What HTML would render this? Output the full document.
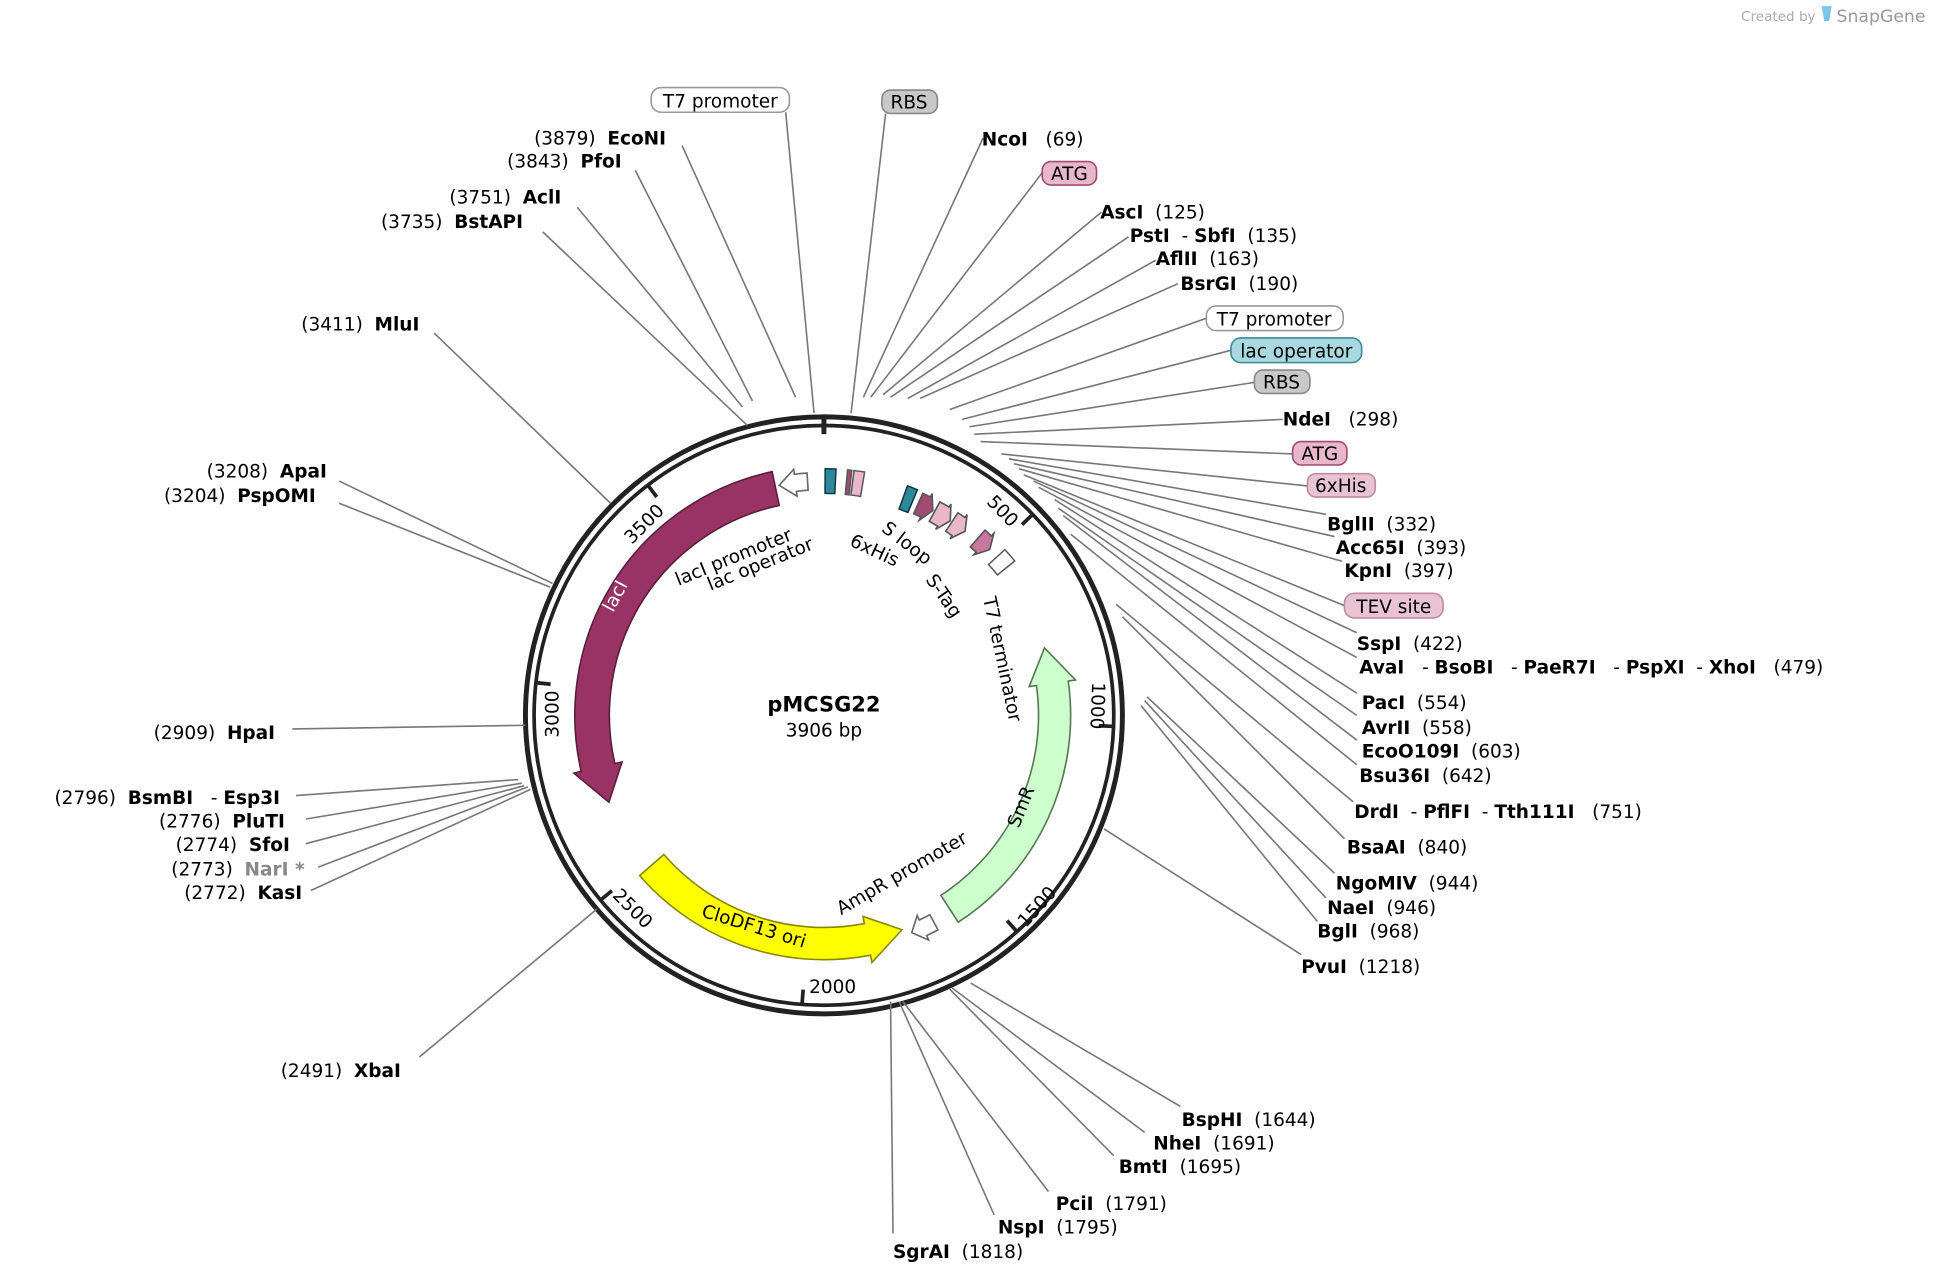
<!DOCTYPE html>
<html><head><meta charset="utf-8">
<style>
html,body{margin:0;padding:0;background:#fff;}
svg{display:block;}
text{font-family:"DejaVu Sans","Liberation Sans",Verdana,sans-serif;font-size:15px;fill:#000;white-space:pre;}
.b{font-weight:bold;}
.n{font-weight:normal;}
.ln{stroke:#777;stroke-width:1.3;fill:none;}
.box{stroke-width:1.3;}
</style></head>
<body>
<svg id="s" width="1934" height="1284" viewBox="0 0 1568 1041" xmlns="http://www.w3.org/2000/svg" xml:space="preserve">
<g id="arcs"></g>
<circle cx="668" cy="580" r="242" fill="none" stroke="#222" stroke-width="4"/>
<circle cx="668" cy="580" r="235" fill="none" stroke="#222" stroke-width="3"/>
<line x1="668" y1="336" x2="668" y2="352" stroke="#222" stroke-width="4"/>
<g id="ticks"></g>
<text x="800" y="418" transform="rotate(46 812 412)">500</text>
<text x="872" y="566" transform="rotate(92 885 566)">1000</text>
<text x="815" y="745" transform="rotate(-48 832 730)">1500</text>
<text x="656" y="805">2000</text>
<text x="492" y="740" transform="rotate(45 510 738)">2500</text>
<text x="453" y="598" transform="rotate(-90 453 598)">3000</text>
<text x="500" y="432" transform="rotate(-45 518 422)">3500</text>
<text x="668" y="577" text-anchor="middle" class="b" style="font-size:17px">pMCSG22</text>
<text x="668" y="597" text-anchor="middle">3906 bp</text>
<text x="550" y="475" transform="rotate(-22 550 475)">lacI promoter</text>
<text x="576" y="479" transform="rotate(-22 576 479)">lac operator</text>
<text x="688" y="442" transform="rotate(25 688 442)">6xHis</text>
<text x="714" y="430" transform="rotate(38 714 430)">S loop</text>
<text x="750" y="470" transform="rotate(55 750 470)">S-Tag</text>
<text x="797" y="485" transform="rotate(78 797 485)">T7 terminator</text>
<text x="826" y="672" transform="rotate(-68 826 672)">SmR</text>
<text x="568" y="743" transform="rotate(17 568 743)">CloDF13 ori</text>
<text x="682" y="742" transform="rotate(-30 682 742)">AmpR promoter</text>
<text x="497" y="497" transform="rotate(-62 497 497)" style="fill:#fff">lacI</text>
<g class="ln">
<path d="M637 91L660 335M718 92L690 335M553 118L645 322M515 138L610 325M468 168L602 330M440 188L606 345M352 270L495 408M275 390L448 473M275 408L446 476M237 591L426 588M240 645L420 632M248 664L423 635M248 684L425 637M258 703L428 638M252 722L430 640M340 857L484 737"/>
<path d="M724 1000L722 812M806 985L729 812M850 966L732 812M903 937L770 802M928 918L772 801M957 897L787 797"/>
<path d="M1055 774L895 672M1068 747L925 572M1075 728L928 568M1082 708L930 565M1090 680L910 500M1097 650L905 490M1100 620L868 433M1100 600L862 418M1100 580L858 412M1100 562L855 405M1100 533L842 395M1100 513L838 390M1090 491L830 385M1088 455L826 380M1082 435L822 376M1075 417L818 372M1060 394L812 368M1048 368L795 358M1040 340L790 352M1017 310L786 346M998 284L780 340M978 258L770 332M955 230L746 323M937 211L736 323M915 192L722 322M893 172L716 320M845 140L706 322M797 112L700 322"/>
</g>
<rect class="box" x="528" y="71" width="112" height="20" rx="8" fill="#fff" stroke="#999"/>
<text x="584" y="87" text-anchor="middle">T7 promoter</text>
<rect class="box" x="715" y="73" width="45" height="19" rx="7" fill="#c8c8c8" stroke="#888"/>
<text x="737" y="88" text-anchor="middle">RBS</text>
<rect class="box" x="845" y="131" width="44" height="19" rx="7" fill="#e8b7c9" stroke="#a24b72"/>
<text x="867" y="146" text-anchor="middle">ATG</text>
<rect class="box" x="978" y="248" width="111" height="20" rx="8" fill="#fff" stroke="#999"/>
<text x="1033" y="264" text-anchor="middle">T7 promoter</text>
<rect class="box" x="998" y="274" width="106" height="20" rx="8" fill="#a8d8e0" stroke="#3a8a98"/>
<text x="1051" y="290" text-anchor="middle">lac operator</text>
<rect class="box" x="1017" y="300" width="45" height="19" rx="7" fill="#c8c8c8" stroke="#888"/>
<text x="1039" y="315" text-anchor="middle">RBS</text>
<rect class="box" x="1048" y="358" width="44" height="19" rx="7" fill="#e8b7c9" stroke="#a24b72"/>
<text x="1070" y="373" text-anchor="middle">ATG</text>
<rect class="box" x="1060" y="384" width="55" height="19" rx="7" fill="#e8c4d2" stroke="#c08aa0"/>
<text x="1087" y="399" text-anchor="middle">6xHis</text>
<rect class="box" x="1090" y="481" width="80" height="20" rx="8" fill="#e8c4d2" stroke="#c08aa0"/>
<text x="1130" y="497" text-anchor="middle">TEV site</text>
<text x="540" y="117" text-anchor="end"><tspan class="n">(3879)  </tspan><tspan class="b">EcoNI</tspan></text>
<text x="504" y="136" text-anchor="end"><tspan class="n">(3843)  </tspan><tspan class="b">PfoI</tspan></text>
<text x="455" y="165" text-anchor="end"><tspan class="n">(3751)  </tspan><tspan class="b">AclI</tspan></text>
<text x="424" y="185" text-anchor="end"><tspan class="n">(3735)  </tspan><tspan class="b">BstAPI</tspan></text>
<text x="340" y="268" text-anchor="end"><tspan class="n">(3411)  </tspan><tspan class="b">MluI</tspan></text>
<text x="265" y="387" text-anchor="end"><tspan class="n">(3208)  </tspan><tspan class="b">ApaI</tspan></text>
<text x="256" y="407" text-anchor="end"><tspan class="n">(3204)  </tspan><tspan class="b">PspOMI</tspan></text>
<text x="223" y="599" text-anchor="end"><tspan class="n">(2909)  </tspan><tspan class="b">HpaI</tspan></text>
<text x="227" y="652" text-anchor="end"><tspan class="n">(2796)  </tspan><tspan class="b">BsmBI</tspan><tspan>   - </tspan><tspan class="b">Esp3I</tspan></text>
<text x="231" y="671" text-anchor="end"><tspan class="n">(2776)  </tspan><tspan class="b">PluTI</tspan></text>
<text x="235" y="690" text-anchor="end"><tspan class="n">(2774)  </tspan><tspan class="b">SfoI</tspan></text>
<text x="247" y="710" text-anchor="end"><tspan class="n">(2773)  </tspan><tspan class="b" style="fill:#888">NarI *</tspan></text>
<text x="245" y="729" text-anchor="end"><tspan class="n">(2772)  </tspan><tspan class="b">KasI</tspan></text>
<text x="325" y="873" text-anchor="end"><tspan class="n">(2491)  </tspan><tspan class="b">XbaI</tspan></text>
<text x="724" y="1020"><tspan class="b">SgrAI</tspan><tspan>  (1818)</tspan></text>
<text x="809" y="1000"><tspan class="b">NspI</tspan><tspan>  (1795)</tspan></text>
<text x="856" y="981"><tspan class="b">PciI</tspan><tspan>  (1791)</tspan></text>
<text x="907" y="951"><tspan class="b">BmtI</tspan><tspan>  (1695)</tspan></text>
<text x="935" y="932"><tspan class="b">NheI</tspan><tspan>  (1691)</tspan></text>
<text x="958" y="913"><tspan class="b">BspHI</tspan><tspan>  (1644)</tspan></text>
<text x="1055" y="789"><tspan class="b">PvuI</tspan><tspan>  (1218)</tspan></text>
<text x="1068" y="760"><tspan class="b">BglI</tspan><tspan>  (968)</tspan></text>
<text x="1076" y="741"><tspan class="b">NaeI</tspan><tspan>  (946)</tspan></text>
<text x="1083" y="721"><tspan class="b">NgoMIV</tspan><tspan>  (944)</tspan></text>
<text x="1092" y="692"><tspan class="b">BsaAI</tspan><tspan>  (840)</tspan></text>
<text x="1098" y="663"><tspan class="b">DrdI</tspan><tspan>  - </tspan><tspan class="b">PflFI</tspan><tspan>  - </tspan><tspan class="b">Tth111I</tspan><tspan>   (751)</tspan></text>
<text x="1102" y="634"><tspan class="b">Bsu36I</tspan><tspan>  (642)</tspan></text>
<text x="1104" y="614"><tspan class="b">EcoO109I</tspan><tspan>  (603)</tspan></text>
<text x="1104" y="595"><tspan class="b">AvrII</tspan><tspan>  (558)</tspan></text>
<text x="1104" y="575"><tspan class="b">PacI</tspan><tspan>  (554)</tspan></text>
<text x="1102" y="546"><tspan class="b">AvaI</tspan><tspan>   - </tspan><tspan class="b">BsoBI</tspan><tspan>   - </tspan><tspan class="b">PaeR7I</tspan><tspan>   - </tspan><tspan class="b">PspXI</tspan><tspan>  - </tspan><tspan class="b">XhoI</tspan><tspan>   (479)</tspan></text>
<text x="1100" y="527"><tspan class="b">SspI</tspan><tspan>  (422)</tspan></text>
<text x="1090" y="468"><tspan class="b">KpnI</tspan><tspan>  (397)</tspan></text>
<text x="1083" y="449"><tspan class="b">Acc65I</tspan><tspan>  (393)</tspan></text>
<text x="1076" y="430"><tspan class="b">BglII</tspan><tspan>  (332)</tspan></text>
<text x="1040" y="345"><tspan class="b">NdeI</tspan><tspan>   (298)</tspan></text>
<text x="957" y="235"><tspan class="b">BsrGI</tspan><tspan>  (190)</tspan></text>
<text x="937" y="215"><tspan class="b">AflII</tspan><tspan>  (163)</tspan></text>
<text x="916" y="196"><tspan class="b">PstI</tspan><tspan>  - </tspan><tspan class="b">SbfI</tspan><tspan>  (135)</tspan></text>
<text x="892" y="177"><tspan class="b">AscI</tspan><tspan>  (125)</tspan></text>
<text x="796" y="118"><tspan class="b">NcoI</tspan><tspan>   (69)</tspan></text>
<text x="1472" y="17" text-anchor="end" style="font-size:11px;fill:#aaa">Created by</text>
<path d="M1477 5h8l-2 12h-4z" fill="#7cc4e8"/>
<text x="1489" y="18" style="font-size:14px;fill:#999">SnapGene</text>
</svg>
<script>
var cx=668,cy=580,NS="http://www.w3.org/2000/svg";
function P(r,a){a=a*Math.PI/180;return [cx+r*Math.sin(a),cy-r*Math.cos(a)];}
function pt(p){return p[0].toFixed(1)+" "+p[1].toFixed(1);}
function arrow(r,a1,a2,w,h,hw,fill,stroke){
 var s=a2>a1?1:-1,ab=a2-s*h,ro=r+w/2,ri=r-w/2;
 var large=Math.abs(ab-a1)>180?1:0,sw1=s>0?1:0,sw2=s>0?0:1;
 var d="M"+pt(P(ro,a1))+"A"+ro+" "+ro+" 0 "+large+" "+sw1+" "+pt(P(ro,ab))+"L"+pt(P(ro+hw,ab))+"L"+pt(P(r,a2))+"L"+pt(P(ri-hw,ab))+"L"+pt(P(ri,ab))+"A"+ri+" "+ri+" 0 "+large+" "+sw2+" "+pt(P(ri,a1))+"Z";
 add("path",{d:d,fill:fill,stroke:stroke,"stroke-width":1.3});
}
function box(r,a1,a2,w,fill,stroke){
 var ro=r+w/2,ri=r-w/2;
 var d="M"+pt(P(ro,a1))+"A"+ro+" "+ro+" 0 0 1 "+pt(P(ro,a2))+"L"+pt(P(ri,a2))+"A"+ri+" "+ri+" 0 0 0 "+pt(P(ri,a1))+"Z";
 add("path",{d:d,fill:fill,stroke:stroke,"stroke-width":1.2});
}
function add(t,at,par){var e=document.createElementNS(NS,t);for(var k in at)e.setAttribute(k,at[k]);(par||document.getElementById("arcs")).appendChild(e);return e;}
arrow(188,348,248,28,9,6,"#993366","#5a1e3c");
arrow(187,147,73,26,9,6,"#ccffcc","#557755");
arrow(185,229,160,26,9,6,"#ffff00","#888800");
arrow(190,356,349,14,4,4,"#fff","#666");
box(190,0.3,2.8,20,"#2a8a9a","#134");
box(190,5.5,6.5,20,"#a24b72","#555");
box(190,7,9.5,20,"#e8b7c9","#555");
arrow(190,152,158,14,3,4,"#fff","#666");
box(188,20,22.5,20,"#2a8a9a","#134");
arrow(188,24,28,18,2,3,"#a24b72","#555");
arrow(188,28.5,33,18,2,3,"#e8b7c9","#555");
arrow(188,33.5,37.5,18,2,3,"#e8b7c9","#555");
arrow(190,41,45,18,2,3,"#c8789c","#555");
box(190,47.5,51,18,"#fff","#555");
var tg=document.getElementById("ticks");
[500,1000,1500,2000,2500,3000,3500].forEach(function(b){var a=b/3906*360;var p1=P(234,a),p2=P(223,a);add("line",{x1:p1[0],y1:p1[1],x2:p2[0],y2:p2[1],stroke:"#222","stroke-width":3},tg);});
</script>
</body></html>
